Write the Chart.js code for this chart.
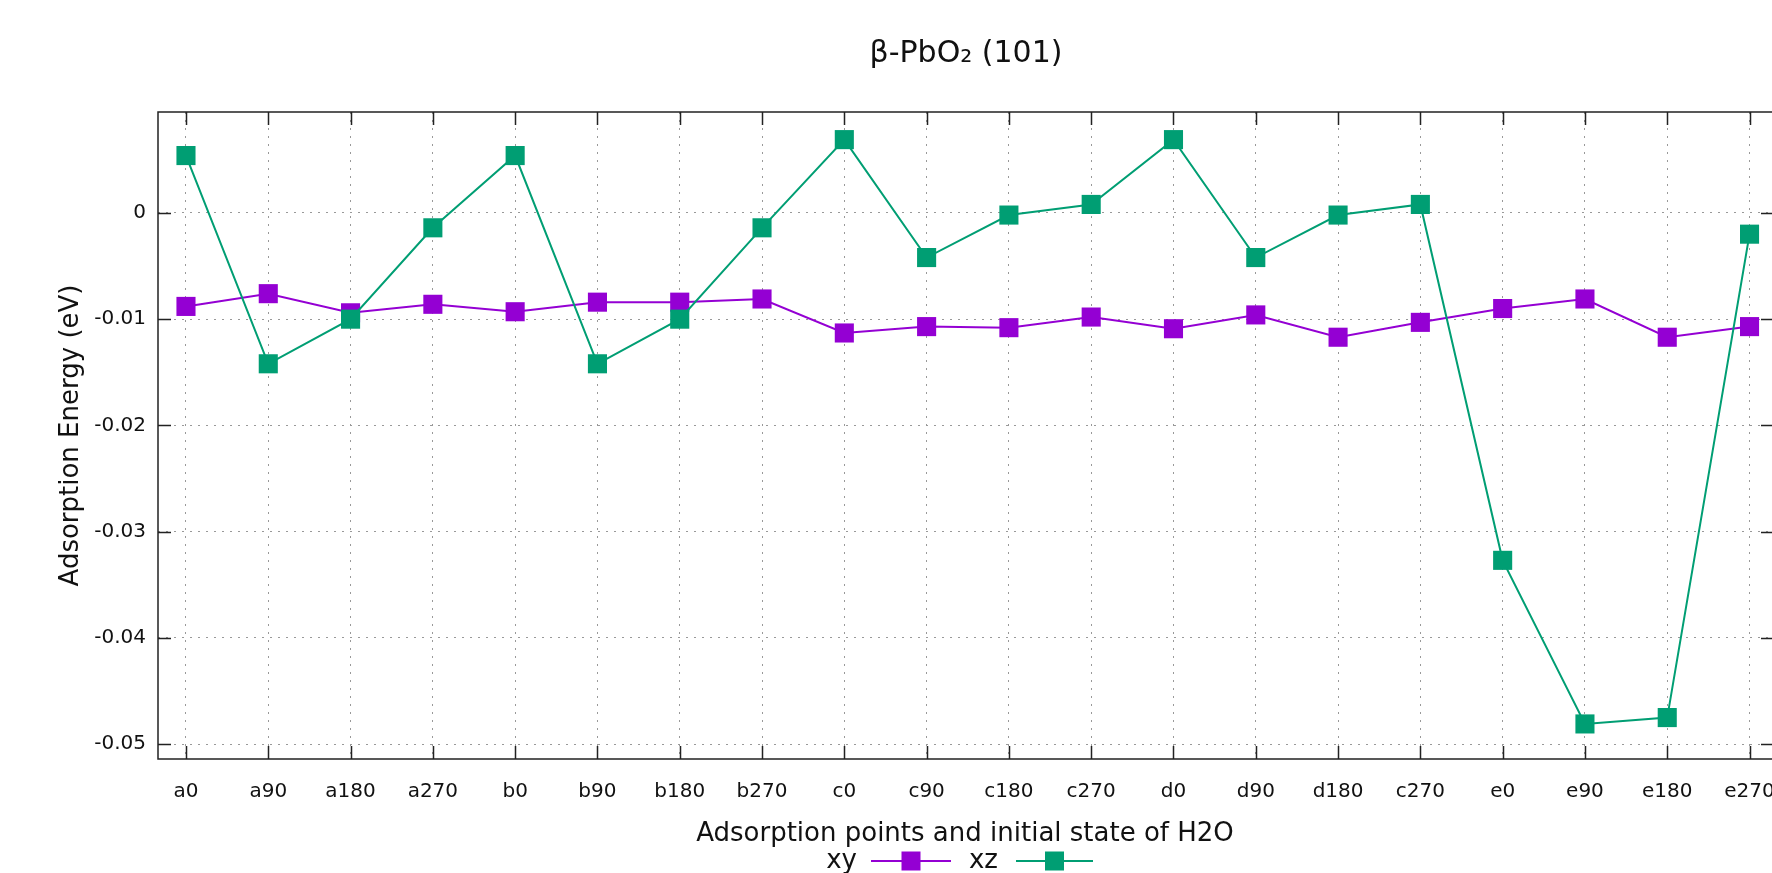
<!DOCTYPE html>
<html>
<head>
<meta charset="utf-8">
<script src="https://cdn.jsdelivr.net/npm/chart.js@4.4.1/dist/chart.umd.min.js"></script>
<style>
  html, body { margin: 0; padding: 0; background: #fff; }
  canvas { display: block; }
</style>
</head>
<body>
<canvas id="myChart" width="1772" height="873"></canvas>
<script>
// adsorption sites / initial orientation (as labelled in the original plot)
const categories = ['a0', 'a90', 'a180', 'a270', 'b0', 'b90', 'b180', 'b270',
  'c0', 'c90', 'c180', 'c270', 'd0', 'd90', 'd180', 'c270',
  'e0', 'e90', 'e180', 'e270'];

const xyValues = [-0.0088, -0.0076, -0.0094, -0.0086, -0.0093, -0.0084, -0.0084, -0.0081,
  -0.0113, -0.0107, -0.0108, -0.0098, -0.0109, -0.0096, -0.0117, -0.0103,
  -0.0090, -0.0081, -0.0117, -0.0107];

const xzValues = [0.0054, -0.0142, -0.0100, -0.0014, 0.0054, -0.0142, -0.0100, -0.0014,
  0.0069, -0.0042, -0.0002, 0.0008, 0.0069, -0.0042, -0.0002, 0.0008,
  -0.0327, -0.0481, -0.0475, -0.0020];

const yTicks = [-0.05, -0.04, -0.03, -0.02, -0.01, 0];

const seriesNames = ['xy', 'xz'];
const colors = ['#9400d3', '#009e73'];

const font = "'DejaVu Sans', Tahoma, sans-serif";

function toPoints(values) {
  return values.map((v, i) => ({ x: i, y: v }));
}

// gnuplot-like frame, inward ticks, title and legend
const gnuplotDecor = {
  id: 'gnuplotDecor',
  afterDraw(chart) {
    const c = chart.ctx;
    const area = chart.chartArea;
    const xs = chart.scales.x;
    const ys = chart.scales.y;
    const tick = 13;
    // the right border of the original sits just past the image edge
    const right = area.right + 2;

    c.save();
    c.strokeStyle = '#222';
    c.lineWidth = 1.5;
    c.beginPath();
    c.moveTo(right, area.top); c.lineTo(area.left, area.top);
    c.lineTo(area.left, area.bottom); c.lineTo(right, area.bottom);
    c.stroke();

    c.beginPath();
    categories.forEach((_, i) => {
      const px = Math.round(xs.getPixelForValue(i)) + 0.5;
      c.moveTo(px, area.bottom); c.lineTo(px, area.bottom - tick);
      c.moveTo(px, area.top); c.lineTo(px, area.top + tick);
    });
    yTicks.forEach(v => {
      const py = Math.round(ys.getPixelForValue(v)) + 0.5;
      c.moveTo(area.left, py); c.lineTo(area.left + tick, py);
      c.moveTo(right, py); c.lineTo(right - tick, py);
    });
    c.stroke();

    const cx = (area.left + right) / 2;

    // title
    c.fillStyle = '#111';
    c.font = '30px ' + font;
    c.textAlign = 'center';
    c.textBaseline = 'middle';
    c.fillText('β-PbO₂ (101)', cx, 54);

    // legend: text, then line sample with marker
    const ly = 861;
    const items = [
      { textEnd: cx - 109, lineStart: cx - 95, lineEnd: cx - 15 },
      { textEnd: cx + 32, lineStart: cx + 50, lineEnd: cx + 127 }
    ];
    c.font = '26px ' + font;
    c.textAlign = 'right';
    items.forEach((it, k) => {
      c.fillStyle = '#111';
      c.fillText(seriesNames[k], it.textEnd, ly);
      c.strokeStyle = colors[k];
      c.lineWidth = 2;
      c.beginPath();
      c.moveTo(it.lineStart, ly); c.lineTo(it.lineEnd, ly);
      c.stroke();
      c.fillStyle = colors[k];
      const mx = (it.lineStart + it.lineEnd) / 2;
      c.fillRect(mx - 9.5, ly - 9.5, 19, 19);
    });
    c.restore();
  }
};

const ctx = document.getElementById('myChart');

new Chart(ctx, {
  type: 'line',
  data: {
    datasets: [
      {
        label: seriesNames[0],
        data: toPoints(xyValues),
        borderColor: colors[0],
        backgroundColor: colors[0],
        borderWidth: 2,
        pointStyle: 'rect',
        pointRadius: 13.5,
        pointBorderWidth: 0,
        tension: 0,
        order: 1
      },
      {
        label: seriesNames[1],
        data: toPoints(xzValues),
        borderColor: colors[1],
        backgroundColor: colors[1],
        borderWidth: 2,
        pointStyle: 'rect',
        pointRadius: 13.5,
        pointBorderWidth: 0,
        tension: 0,
        order: 0
      }
    ]
  },
  options: {
    responsive: false,
    animation: false,
    layout: {
      autoPadding: false,
      padding: { top: 112, right: 0, left: 0, bottom: 0 }
    },
    plugins: {
      legend: { display: false },
      title: { display: false },
      tooltip: { enabled: false }
    },
    scales: {
      x: {
        type: 'linear',
        min: -0.34,
        max: 19.273,
        afterFit: scale => {
          scale.height = 114;
          scale.paddingLeft = 0;
          scale.paddingRight = 0;
        },
        ticks: {
          stepSize: 1,
          includeBounds: false,
          autoSkip: false,
          maxRotation: 0,
          maxTicksLimit: 40,
          padding: 21,
          color: '#111',
          font: { family: font, size: 20 },
          callback: v => categories[v]
        },
        grid: {
          drawTicks: false,
          color: '#999',
          lineWidth: 1
        },
        border: { display: false, dash: [2, 6] },
        title: {
          display: true,
          text: 'Adsorption points and initial state of H2O',
          color: '#111',
          font: { family: font, size: 26 },
          padding: { top: 0, bottom: 23 }
        }
      },
      y: {
        min: -0.0514,
        max: 0.0095,
        afterFit: scale => {
          scale.width = 158;
          scale.paddingTop = 0;
          scale.paddingBottom = 0;
        },
        ticks: {
          stepSize: 0.01,
          includeBounds: false,
          padding: 12,
          color: '#111',
          font: { family: font, size: 20 },
          callback: v => (v === 0 ? '0' : String(v))
        },
        grid: {
          drawTicks: false,
          color: '#999',
          lineWidth: 1
        },
        border: { display: false, dash: [2, 6] },
        title: {
          display: true,
          text: 'Adsorption Energy (eV)',
          color: '#111',
          font: { family: font, size: 26 },
          padding: { top: 56, bottom: 0 }
        }
      }
    }
  },
  plugins: [gnuplotDecor]
});
</script>
</body>
</html>
